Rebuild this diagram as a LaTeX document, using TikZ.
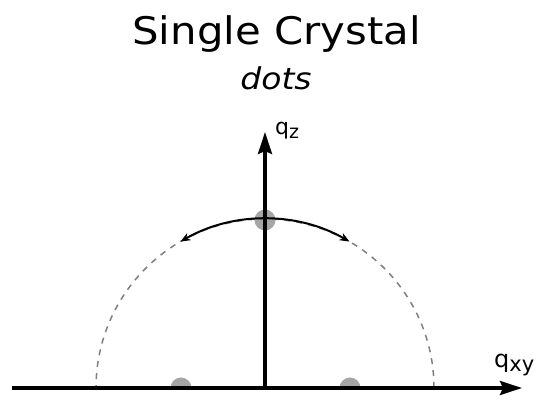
\documentclass[tikz,border=0pt]{standalone}
\usepackage{fontspec}
\setmainfont{DejaVu Sans}
\usetikzlibrary{arrows.meta}
\begin{document}
\begin{tikzpicture}[x=1pt,y=-1pt,
  axis/.style={line width=3.2pt,-{Stealth[length=22pt,width=14pt,inset=3pt]}},
  ring/.style={line width=1.5pt,gray,dash pattern=on 6pt off 6pt},
  spotfill/.style={fill=black!50,opacity=0.7},
  spot/.style={circle,spotfill,minimum size=21pt,inner sep=0pt},
  lbl/.style={inner sep=0pt}]
\useasboundingbox (0,0) rectangle (552,403);
\coordinate (O) at (265,388);
\coordinate (xs) at (12,388);
\coordinate (xe) at (522,388);
\coordinate (ze) at (265,132);
\coordinate (s1) at (181,388);
\coordinate (s2) at (350,388);
\node[spot] (s0) at (265,220) {};
\fill[spotfill] (s1) ++(10.5,0) arc[start angle=0,end angle=-180,radius=10.5] -- cycle;
\fill[spotfill] (s2) ++(10.5,0) arc[start angle=0,end angle=-180,radius=10.5] -- cycle;
\draw[ring] (O) ++(169,0) arc[start angle=0,end angle=-180,radius=169];
\draw[line width=2pt,{Stealth[length=10pt,width=8pt]}-{Stealth[length=10pt,width=8pt]}] (O) ++(-84.5,-146.4) arc[start angle=-120,end angle=-60,radius=169];
\draw[axis] (xs) -- (xe);
\draw[axis] (O) -- (ze);
\node[lbl,anchor=base,font=\fontsize{38}{44}\selectfont] (title) at (276.5,45) {\scalebox{1.1}[1]{Single Crystal}};
\node[lbl,anchor=base,font=\fontsize{30}{34}\selectfont\itshape] (sub) at (276,90) {\scalebox{1.1}[1]{dots}};
\node[lbl,anchor=base west,font=\fontsize{22}{26}\selectfont] (qz) at (275,135) {q\raisebox{-4pt}{\fontsize{19}{22}\selectfont z}};
\node[lbl,anchor=base west,font=\fontsize{24}{28}\selectfont] (qxy) at (494,368) {q\raisebox{-4pt}{\fontsize{21}{24}\selectfont xy}};
\end{tikzpicture}
\end{document}
